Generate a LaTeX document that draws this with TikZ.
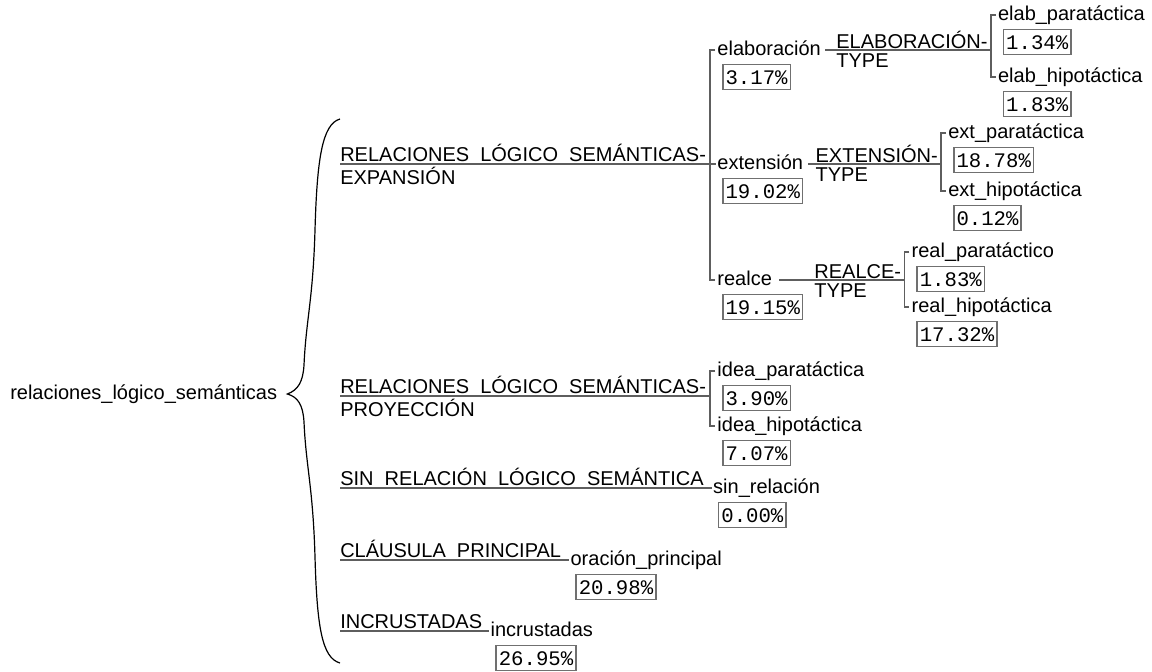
\documentclass[tikz,border=0pt]{standalone}
\usepackage{fontspec}
\setmainfont{Liberation Sans}
\setmonofont{Liberation Mono}
\usetikzlibrary{calc}
\definecolor{linegray}{HTML}{5E5E5E}
\definecolor{boxgray}{HTML}{707070}
% two-line system name, baseline on the first line
\newcommand{\twoline}[2]{\begin{tabular}[t]{@{}l@{}}#1\\#2\end{tabular}}

\begin{document}
\begin{tikzpicture}[
    x=0.75pt, y=-0.75pt,
    sysname/.style={anchor=base west, inner sep=0pt, font=\fontsize{15}{14.25}\selectfont},
    term/.style={anchor=base west, inner sep=0pt, font=\fontsize{15}{18}\selectfont},
    pct/.style={draw=boxgray, line width=1.1pt, anchor=north west, inner xsep=2pt, inner ysep=0pt,
                minimum height=18.75pt, font=\ttfamily\fontsize{15.5}{18}\selectfont},
    conn/.style={draw=linegray, line width=1.2pt},
    curly/.style={draw=black, line width=0.9pt}
]
    \useasboundingbox (0,0) rectangle (1152,671);

    % Root and brace
    \node[term] (root) at (10,399) {relaciones\_lógico\_semánticas};
    \coordinate (tip) at ($(root.base east)+(10,-5)$);
    \draw[curly] (340,119) .. controls (322,124) and (317,160) .. (315,230)
        .. controls (313,300) and (306,320) .. (304,365)
        .. controls (303,382) and (298,390) .. (tip)
        .. controls (298,397) and (303,405) .. (304,422)
        .. controls (306,467) and (313,487) .. (315,557)
        .. controls (317,627) and (322,658) .. (340,663);

    % Systems of the first level
    \node[sysname] (expn) at (340,161) {\twoline{RELACIONES\_LÓGICO\_SEMÁNTICAS-}{EXPANSIÓN}};
    \node[sysname] (proy) at (340,393) {\twoline{RELACIONES\_LÓGICO\_SEMÁNTICAS-}{PROYECCIÓN}};
    \node[sysname] (sinr) at (340,485) {SIN\_RELACIÓN\_LÓGICO\_SEMÁNTICA};
    \node[sysname] (claus) at (340,557) {CLÁUSULA\_PRINCIPAL};
    \node[sysname] (incr) at (340,628) {INCRUSTADAS};

    % Expansión
    \coordinate (expbr) at ($(expn.base east)+(4,3)$);
    \node[term] (elab) at ($(expbr)+(7,-109)$) {elaboración};
    \node[pct] (elabv) at ($(elab.base west)+(5,9)$) {3.17\%};
    \node[term] (ext) at ($(expbr)+(7,5)$) {extensión};
    \node[pct] (extv) at ($(ext.base west)+(5,9)$) {19.02\%};
    \node[term] (real) at ($(expbr)+(7,121)$) {realce};
    \node[pct] (realv) at ($(real.base west)+(5,9)$) {19.15\%};

    \draw[conn] ($(expn.base west)+(0,3)$) -- ($(ext.base west)+(-1,-5)$);
    \draw[conn] ($(elab.base west)+(-2,-5)$) -| ($(real.base west)+(-7,-5)$) -- ($(real.base west)+(-2,-5)$);

    % Elaboración
    \node[sysname] (elabt) at ($(elab.base east)+(15,-7)$) {\twoline{ELABORACIÓN-}{TYPE}};
    \coordinate (elabbr) at ($(elabt.base east)+(3,2)$);
    \node[term] (elabpa) at ($(elabbr)+(7,-30)$) {elab\_paratáctica};
    \node[pct] (elabpav) at ($(elabpa.base west)+(5,9)$) {1.34\%};
    \node[term] (elabhi) at ($(elabbr)+(7,32)$) {elab\_hipotáctica};
    \node[pct] (elabhiv) at ($(elabhi.base west)+(5,9)$) {1.83\%};

    \draw[conn] ($(elab.base east)+(4,-5)$) -- (elabbr);
    \draw[conn] ($(elabpa.base west)+(-2,-5)$) -| ($(elabhi.base west)+(-7,-5)$) -- ($(elabhi.base west)+(-2,-5)$);

    % Extensión
    \node[sysname] (extt) at ($(ext.base east)+(12,-7)$) {\twoline{EXTENSIÓN-}{TYPE}};
    \coordinate (extbr) at ($(extt.base east)+(3,2)$);
    \node[term] (extpa) at ($(extbr)+(7,-26)$) {ext\_paratáctica};
    \node[pct] (extpav) at ($(extpa.base west)+(5,9)$) {18.78\%};
    \node[term] (exthi) at ($(extbr)+(7,32)$) {ext\_hipotáctica};
    \node[pct] (exthiv) at ($(exthi.base west)+(5,9)$) {0.12\%};

    \draw[conn] ($(ext.base east)+(5,-5)$) -- (extbr);
    \draw[conn] ($(extpa.base west)+(-2,-5)$) -| ($(exthi.base west)+(-7,-5)$) -- ($(exthi.base west)+(-2,-5)$);

    % Realce
    \node[sysname] (realt) at ($(real.base east)+(42,-7)$) {\twoline{REALCE-}{TYPE}};
    \coordinate (realbr) at ($(realt.base east)+(3,2)$);
    \node[term] (realpa) at ($(realbr)+(7,-23)$) {real\_paratáctico};
    \node[pct] (realpav) at ($(realpa.base west)+(5,9)$) {1.83\%};
    \node[term] (realhi) at ($(realbr)+(7,32)$) {real\_hipotáctica};
    \node[pct] (realhiv) at ($(realhi.base west)+(5,9)$) {17.32\%};

    \draw[conn] ($(real.base east)+(7,-5)$) -- (realbr);
    \draw[conn] ($(realpa.base west)+(-2,-5)$) -| ($(realhi.base west)+(-7,-5)$) -- ($(realhi.base west)+(-2,-5)$);

    % Proyección
    \coordinate (proybr) at ($(proy.base east)+(4,3)$);
    \node[term] (ideapa) at ($(proybr)+(7,-20)$) {idea\_paratáctica};
    \node[pct] (ideapav) at ($(ideapa.base west)+(5,9)$) {3.90\%};
    \node[term] (ideahi) at ($(proybr)+(7,35)$) {idea\_hipotáctica};
    \node[pct] (ideahiv) at ($(ideahi.base west)+(5,9)$) {7.07\%};

    \draw[conn] ($(proy.base west)+(0,3)$) -- (proybr);
    \draw[conn] ($(ideapa.base west)+(-2,-5)$) -| ($(ideahi.base west)+(-7,-5)$) -- ($(ideahi.base west)+(-2,-5)$);

    % Single choices
    \node[term] (sinrt) at ($(sinr.base east)+(9,8)$) {sin\_relación};
    \node[pct] (sinrv) at ($(sinrt.base west)+(5,9)$) {0.00\%};
    \node[term] (orac) at ($(claus.base east)+(9,8)$) {oración\_principal};
    \node[pct] (oracv) at ($(orac.base west)+(5,9)$) {20.98\%};
    \node[term] (incrt) at ($(incr.base east)+(8,8)$) {incrustadas};
    \node[pct] (incrv) at ($(incrt.base west)+(5,9)$) {26.95\%};

    \draw[conn] ($(sinr.base west)+(0,3)$) -- ($(sinrt.base west)+(-1,-5)$);
    \draw[conn] ($(claus.base west)+(0,3)$) -- ($(orac.base west)+(-1,-5)$);
    \draw[conn] ($(incr.base west)+(0,3)$) -- ($(incrt.base west)+(-1,-5)$);
\end{tikzpicture}
\end{document}
